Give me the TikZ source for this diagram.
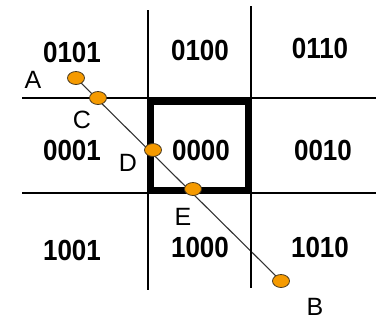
\documentclass[tikz,border=0pt]{standalone}
\usepackage{fontspec}
\setmainfont{Liberation Sans}
\usepackage{tikz}
\usetikzlibrary{shapes.geometric,backgrounds}
\definecolor{dotorange}{HTML}{F59A00}
\definecolor{dotedge}{HTML}{4A3A20}

\begin{document}
\begin{tikzpicture}[
  x=1pt,y=-1pt,
  grid/.style={draw=black,line width=1.4pt},
  window/.style={draw=black,line width=6pt,line join=miter},
  code/.style={font=\fontsize{26}{26}\bfseries\selectfont,inner sep=0pt,
    yscale=1.12},
  letter/.style={font=\fontsize{25}{25}\selectfont,inner sep=0pt},
  dot/.style={ellipse,draw=dotedge,fill=dotorange,line width=0.8pt,
    minimum width=17pt,minimum height=13pt,inner sep=0pt},
  seg/.style={draw=black!80,line width=1.1pt}
]
  \useasboundingbox (0,0) rectangle (382,322);

  % grid of the nine regions
  \coordinate (v1t) at (148,10);  \coordinate (v1b) at (148,290);
  \coordinate (v2t) at (251,6);   \coordinate (v2b) at (251,288);
  \coordinate (h1l) at (22,98);   \coordinate (h1r) at (376,98);
  \coordinate (h2l) at (22,193);  \coordinate (h2r) at (376,193);
  \draw[grid] (v1t) -- (v1b);
  \draw[grid] (v2t) -- (v2b);
  \draw[grid] (h1l) -- (h1r);
  \draw[grid] (h2l) -- (h2r);

  % clipping window
  \coordinate (wtl) at (151,102);
  \coordinate (wbr) at (248,190);
  \draw[window] (wtl) rectangle (wbr);

  % region codes
  \node[code] (c0101) at (72,52)  {0101};
  \node[code] (c0100) at (200,50) {0100};
  \node[code] (c0110) at (320,48) {0110};
  \node[code] (c0001) at (72,150) {0001};
  \node[code] (c0000) at (201,150) {0000};
  \node[code] (c0010) at (323,150) {0010};
  \node[code] (c1001) at (72,250) {1001};
  \node[code] (c1000) at (200,247) {1000};
  \node[code] (c1010) at (320,247) {1010};

  % segment and its points
  \node[dot] (a) at (76,78) {};
  \node[dot] (c) at (98,98) {};
  \node[dot] (d) at (153,150) {};
  \node[dot] (e) at (193,189) {};
  \node[dot] (b) at (281,281) {};
  \begin{scope}[on background layer]
    \draw[seg] (a.center) -- (b.center);
  \end{scope}

  \node[letter] (la) at (33,80)  {A};
  \node[letter] (lc) at (82,120) {C};
  \node[letter] (ld) at (128,163) {D};
  \node[letter] (le) at (183,217) {E};
  \node[letter] (lb) at (315,307) {B};
\end{tikzpicture}
\end{document}
